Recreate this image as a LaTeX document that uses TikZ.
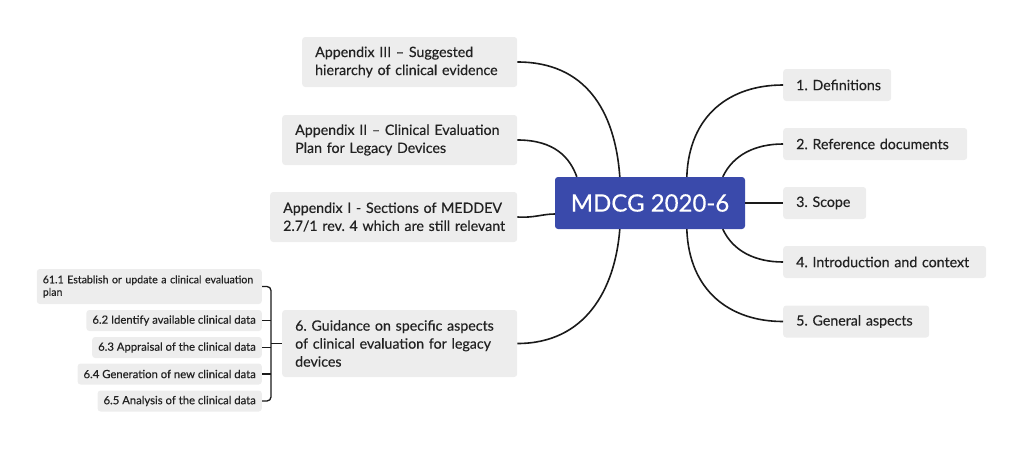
\documentclass[tikz,border=0pt]{standalone}
\usepackage{fontspec}
\setmainfont{Lato}[FakeBold=0.35]
\definecolor{boxgray}{HTML}{EDEDED}
\definecolor{mainblue}{HTML}{3A4AAB}
\definecolor{txt}{HTML}{222222}
\definecolor{lnk}{HTML}{1A1A1A}
\newcommand{\myln}[1]{\mbox{#1}}
\frenchspacing
\begin{document}
\begin{tikzpicture}[x=1pt,y=-1pt,
  topic/.style={fill=boxgray,rounded corners=3pt,text=txt,anchor=west,align=left,inner xsep=13pt,inner ysep=0pt,font=\fontsize{14.2}{18}\selectfont\frenchspacing},
  sub/.style={fill=boxgray,rounded corners=3pt,text=txt,anchor=east,align=left,inner xsep=6pt,inner ysep=0pt,minimum height=21pt,font=\fontsize{11.3}{12.5}\selectfont},
  link/.style={draw=lnk,line width=1.6pt},
  brk/.style={draw=lnk,line width=1.3pt}]
\useasboundingbox (0,0) rectangle (1024,450);
% central
\node[fill=mainblue,rounded corners=3pt,text=white,minimum width=190pt,minimum height=52pt,inner sep=0pt,font=\fontsize{24}{28}\selectfont] (c) at (650,203) {MDCG 2020-6};
% right
\node[topic,text width=82pt,minimum height=32pt] (r1) at (783,85) {\myln{1. Definitions}};
\node[topic,text width=158pt,minimum height=32pt] (r2) at (783,144) {\myln{2. Reference documents}};
\node[topic,text width=57pt,minimum height=32pt] (r3) at (783,203) {\myln{3. Scope}};
\node[topic,text width=177pt,minimum height=32pt] (r4) at (783,262) {\myln{4. Introduction and context}};
\node[topic,text width=120pt,minimum height=32pt] (r5) at (783,321.5) {\myln{5. General aspects}};
% left
\node[topic,text width=189pt,minimum height=50pt] (a3) at (302,62) {\myln{Appendix III -- Suggested}\\\myln{hierarchy of clinical evidence}};
\node[topic,text width=209pt,minimum height=50pt] (a2) at (282,140) {\myln{Appendix II -- Clinical Evaluation}\\\myln{Plan for Legacy Devices}};
\node[topic,text width=221pt,minimum height=50pt] (a1) at (270,217) {\myln{Appendix I - Sections of MEDDEV}\\\myln{2.7/1 rev. 4 which are still relevant}};
\node[topic,text width=209pt,minimum height=67pt] (s6) at (282,343.5) {\myln{6. Guidance on specific aspects}\\\myln{of clinical evaluation for legacy}\\\myln{devices}};
% sub nodes
\node[sub,text width=213pt,minimum height=35pt,font=\fontsize{10.6}{12.5}\selectfont] (b1) at (262,286.5) {\myln{61.1 Establish or update a clinical evaluation}\\\myln{plan}};
\node[sub] (b2) at (262,320.5) {6.2 Identify available clinical data};
\node[sub] (b3) at (262,347.5) {6.3 Appraisal of the clinical data};
\node[sub] (b4) at (262,374) {6.4 Generation of new clinical data};
\node[sub] (b5) at (262,401) {6.5 Analysis of the clinical data};
\coordinate (br) at (271,343.5);
% bracket
\draw[brk,rounded corners=4pt] (b1.east) -| (br) |- (b5.east);
\draw[brk] (b2.east) -- (b2.east -| br);
\draw[brk] (b3.east) -- (b3.east -| br);
\draw[brk] (b4.east) -- (b4.east -| br);
\draw[brk] (br) -- (s6.west);
% right links
\draw[link] ([xshift=132pt]c.north west) .. controls (689,115) and (730,85) .. (r1.west);
\draw[link] ([xshift=168pt]c.north west) .. controls (733,155) and (755,144) .. (r2.west);
\draw[link] (c.east) -- (r3.west);
\draw[link] ([xshift=168pt]c.south west) .. controls (733,251) and (755,262) .. (r4.west);
\draw[link] ([xshift=132pt]c.south west) .. controls (689,291) and (730,321.5) .. (r5.west);
% left links
\draw[link] (a3.east) .. controls (585,62) and (615,110) .. ([xshift=65pt]c.north west);
\draw[link] (a2.east) .. controls (555,140) and (570,158) .. ([xshift=22pt]c.north west);
\draw[link] (a1.east) .. controls (535,218) and (542,214) .. ([yshift=-11pt]c.west);
\draw[link] (s6.west -| s6.east) .. controls (585,343.5) and (615,290) .. ([xshift=65pt]c.south west);
\end{tikzpicture}
\end{document}
